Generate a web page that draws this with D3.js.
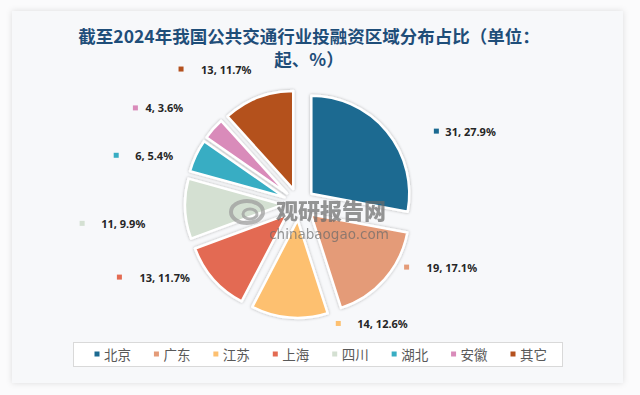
<!DOCTYPE html>
<html>
<head>
<meta charset="utf-8">
<script src="https://cdn.jsdelivr.net/npm/d3@7"></script>
<style>
    body { margin: 0; background: #fbfbfc; }
</style>
</head>
<body>
<script>
// chart data
var regions = ["北京", "广东", "江苏", "上海", "四川", "湖北", "安徽", "其它"];
var counts = [31, 19, 14, 13, 11, 6, 4, 13];
var sliceColors = ["#1b6a91", "#e49b78", "#fdc070", "#e36b52", "#d4e0d2", "#38adc3", "#d98bba", "#b4511e"];
var titleLines = ["截至2024年我国公共交通行业投融资区域分布占比（单位：", "起、%）"];

// labels were dragged by hand in the original: [dx, dy, gap] from a ring outside the pie
var labelNudge = [[22, 23, 9], [-5, -36, 20], [52, -30, 19], [-67, -26, 20],
                  [-67, 13, 19], [-47, 15, 19], [-51, 3, 10], [-64, 5, 20]];

window.onload = setChart();

function setChart() {
    var width = 640,
        height = 395;

    var cx = 299,
        cy = 204,
        radius = 98,
        explode = 16,
        labelRing = 150;

    var svg = d3.select("body")
        .append("svg")
        .attr("width", width)
        .attr("height", height)
        .style("display", "block");

    var defs = svg.append("defs");

    // soft shadow used by card and slices
    defs.append("filter")
        .attr("id", "cardShadow")
        .attr("x", "-5%").attr("y", "-5%")
        .attr("width", "110%").attr("height", "110%")
        .append("feDropShadow")
        .attr("dx", 0).attr("dy", 0)
        .attr("stdDeviation", 3)
        .attr("flood-color", "#000")
        .attr("flood-opacity", 0.12);

    defs.append("filter")
        .attr("id", "sliceShadow")
        .attr("x", "-20%").attr("y", "-20%")
        .attr("width", "140%").attr("height", "140%")
        .append("feDropShadow")
        .attr("dx", 0).attr("dy", 0)
        .attr("stdDeviation", 1.8)
        .attr("flood-color", "#000")
        .attr("flood-opacity", 0.3);

    // card background
    svg.append("rect")
        .attr("x", 12)
        .attr("y", 11)
        .attr("width", 611)
        .attr("height", 372)
        .attr("fill", "#f7f8fa")
        .attr("filter", "url(#cardShadow)");

    // title
    svg.selectAll(".title")
        .data(titleLines)
        .enter()
        .append("text")
        .attr("class", "title")
        .attr("x", 309)
        .attr("y", function(d, i) { return 35 + i * 23; })
        .attr("text-anchor", "middle")
        .attr("dominant-baseline", "central")
        .style("font-family", "'Noto Sans CJK SC', sans-serif")
        .style("font-weight", "bold")
        .style("font-size", "17.5px")
        .style("fill", "#1f4e79")
        .text(function(d) { return d; });

    var total = d3.sum(counts);
    var pct = d3.format(".1%");

    var pie = d3.pie()
        .sort(null)
        .value(function(d) { return d; });

    var arcs = pie(counts);

    var arc = d3.arc()
        .innerRadius(0)
        .outerRadius(radius);

    // used only to find the explode offset along each slice's middle
    var offsetArc = d3.arc()
        .innerRadius(explode)
        .outerRadius(explode);

    var ringArc = d3.arc()
        .innerRadius(labelRing)
        .outerRadius(labelRing);

    var pieGroup = svg.append("g")
        .attr("transform", "translate(" + cx + "," + cy + ")");

    pieGroup.selectAll(".slice")
        .data(arcs)
        .enter()
        .append("path")
        .attr("class", "slice")
        .attr("transform", function(d) {
            var c = offsetArc.centroid(d);
            return "translate(" + c[0] + "," + c[1] + ")";
        })
        .attr("d", arc)
        .attr("fill", function(d, i) { return sliceColors[i]; })
        .attr("stroke", "#fff")
        .attr("stroke-width", 2.5)
        .attr("stroke-linejoin", "round")
        .attr("filter", "url(#sliceShadow)");

    // watermark over the pie
    var mark = svg.append("g")
        .attr("opacity", 0.7);

    mark.append("ellipse")
        .attr("cx", 247).attr("cy", 212)
        .attr("rx", 16).attr("ry", 11)
        .attr("fill", "none")
        .attr("stroke", "#9a9a9a")
        .attr("stroke-width", 4);

    mark.append("ellipse")
        .attr("cx", 250).attr("cy", 214)
        .attr("rx", 7).attr("ry", 5)
        .attr("fill", "none")
        .attr("stroke", "#9a9a9a")
        .attr("stroke-width", 3);

    mark.append("text")
        .attr("x", 331)
        .attr("y", 209)
        .attr("text-anchor", "middle")
        .attr("dominant-baseline", "central")
        .style("font-family", "'Noto Sans CJK SC', sans-serif")
        .style("font-weight", "900")
        .style("font-size", "22px")
        .style("fill", "#6a6a6a")
        .text("观研报告网");

    mark.append("text")
        .attr("x", 329)
        .attr("y", 234)
        .attr("text-anchor", "middle")
        .attr("dominant-baseline", "central")
        .style("font-family", "'DejaVu Sans', sans-serif")
        .style("font-size", "13.5px")
        .style("fill", "#6a6a6a")
        .text("chinabaogao.com");

    // data labels: small key square followed by "count, share"
    var labels = pieGroup.selectAll(".dataLabel")
        .data(arcs)
        .enter()
        .append("g")
        .attr("class", "dataLabel")
        .attr("transform", function(d, i) {
            var c = ringArc.centroid(d);
            return "translate(" + (c[0] + labelNudge[i][0]) + "," + (c[1] + labelNudge[i][1]) + ")";
        });

    labels.append("rect")
        .attr("x", -2.5)
        .attr("y", -2.5)
        .attr("width", 5)
        .attr("height", 5)
        .attr("fill", function(d, i) { return sliceColors[i]; });

    labels.append("text")
        .attr("x", function(d, i) { return labelNudge[i][2]; })
        .attr("y", 0)
        .attr("dominant-baseline", "central")
        .style("font-family", "'Noto Sans', sans-serif")
        .style("font-weight", "bold")
        .style("font-size", "11px")
        .style("fill", "#262626")
        .text(function(d) { return d.data + ", " + pct(d.data / total); });

    // legend
    svg.append("rect")
        .attr("x", 73.5)
        .attr("y", 342.5)
        .attr("width", 489)
        .attr("height", 24)
        .attr("fill", "#fff")
        .attr("stroke", "#d9d9d9");

    var legendX = d3.scalePoint()
        .domain(regions)
        .range([97, 513]);

    var legend = svg.selectAll(".legendItem")
        .data(regions)
        .enter()
        .append("g")
        .attr("class", "legendItem")
        .attr("transform", function(d) { return "translate(" + legendX(d) + ",354)"; });

    legend.append("rect")
        .attr("x", -2.5)
        .attr("y", -2.5)
        .attr("width", 5)
        .attr("height", 5)
        .attr("fill", function(d, i) { return sliceColors[i]; });

    legend.append("text")
        .attr("x", 7)
        .attr("y", 0)
        .attr("dominant-baseline", "central")
        .style("font-family", "'Noto Sans CJK SC', sans-serif")
        .style("font-size", "13.5px")
        .style("fill", "#595959")
        .text(function(d) { return d; });
}
</script>
</body>
</html>
